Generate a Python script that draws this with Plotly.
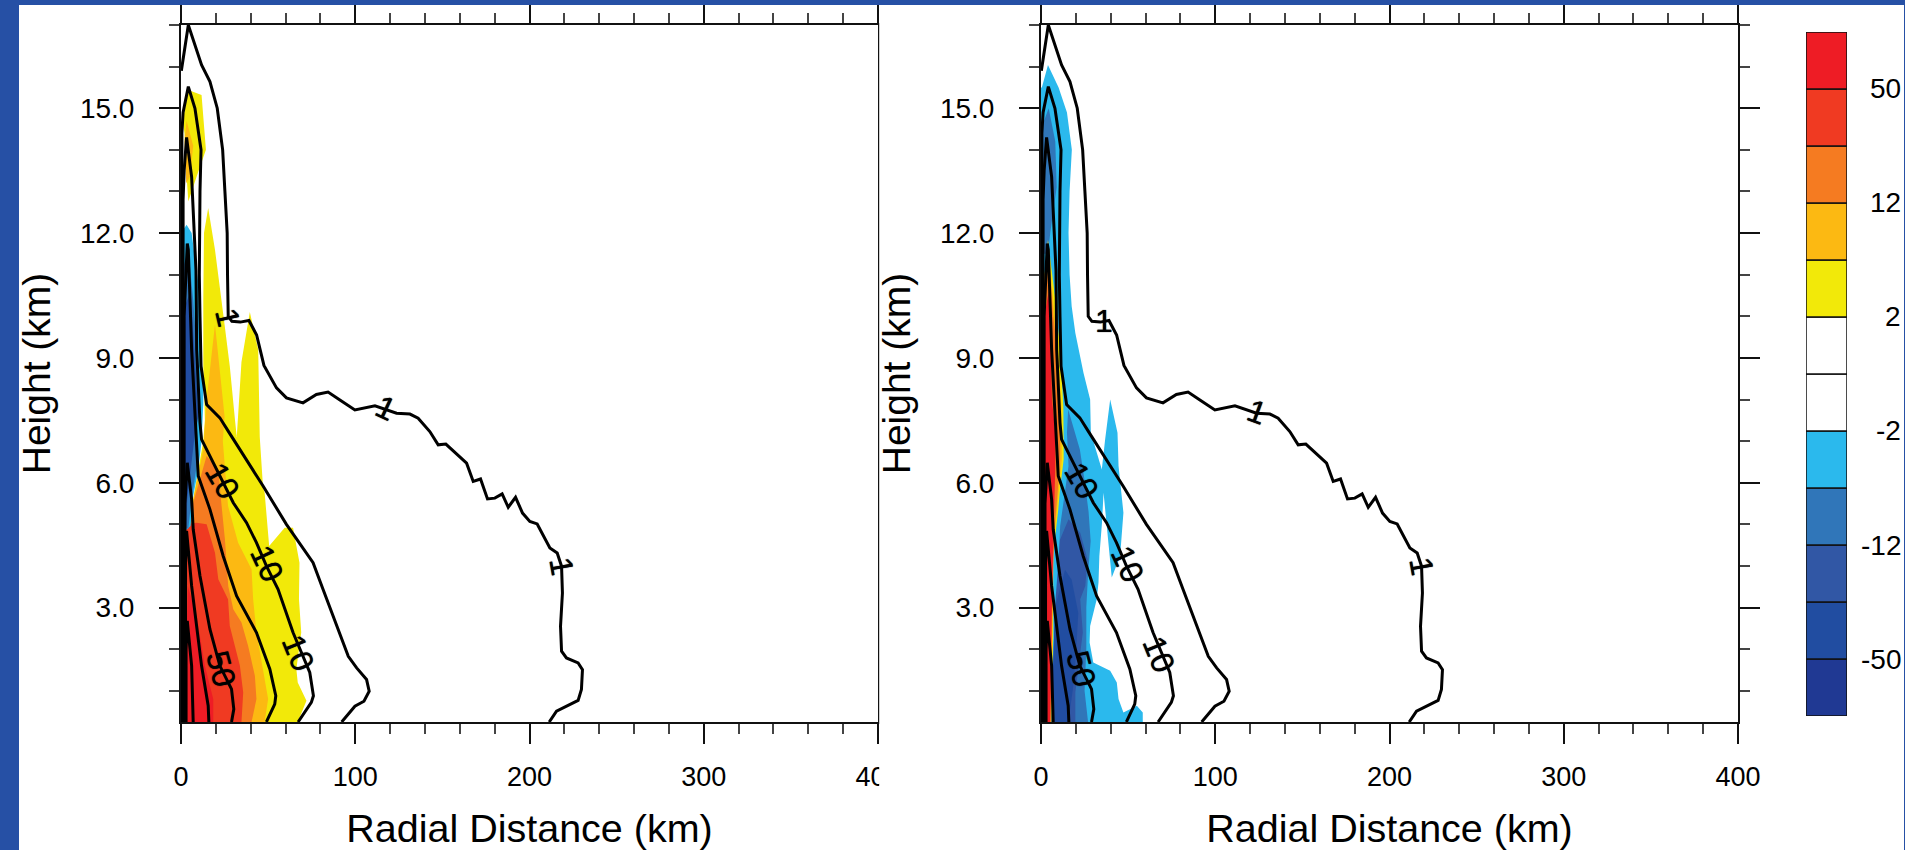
import plotly.graph_objects as go

FONT = "Liberation Sans"
W, H = 1905, 850

# ---- colour levels of the shared bar, bottom to top
BAR_COLORS = ["#203993", "#214da1", "#3157a5", "#3076b9", "#2bb9ed", "#ffffff",
              "#ffffff", "#f2e909", "#fcb912", "#f57b21", "#f03a22", "#ee1c25"]
BAR_TICK_POS = [1, 3, 5, 7, 9, 11]
BAR_TICK_TEXT = ["-50", "-12", "-2", "2", "12", "50"]

X_TICKS = [0, 100, 200, 300, 400]
Y_TICKS = [3, 6, 9, 12, 15]

# ---- contours (radius km, height km); same in both panels
C_OUTER = [(0.2, 15.9), (4.2, 17), (11.8, 16.04), (16.6, 15.64), (20.8, 15), (23.9, 14), (25.2, 13), (26.5, 12),
           (26.7, 11), (27.1, 10), (29.2, 9.88), (34, 9.86), (39, 9.9), (43.4, 9.55), (47.6, 8.82), (54.8, 8.28),
           (60.5, 8.04), (70, 7.92), (77.7, 8.12), (84.4, 8.18), (91.2, 7.99), (99.8, 7.75), (111.3, 7.85),
           (118, 7.75), (123.7, 7.67), (131.4, 7.65), (136.1, 7.55), (142.8, 7.23), (147.6, 6.91), (152, 6.93),
           (158.1, 6.69), (163.9, 6.47), (167.7, 6.03), (171.9, 6.09), (175.9, 5.61), (180.1, 5.63), (184.3, 5.73),
           (187.8, 5.41), (192, 5.65), (196, 5.27), (200.2, 5.07), (204.4, 5.01), (211.7, 4.43), (215.9, 4.31),
           (218.4, 3.99), (218.9, 3.35), (217.8, 2.55), (218.4, 1.95), (221.2, 1.79), (227.9, 1.67), (230.4, 1.51),
           (229.8, 1.03), (227.9, 0.77), (219.3, 0.59), (215.5, 0.51), (211.3, 0.25)]
C_2 = [(0.5, 0.25), (0.5, 14.4), (1.2, 14.9), (4.2, 15.52), (8, 15), (11.5, 14), (10.9, 13), (10.5, 12), (10.5, 11),
       (10.9, 10), (11.5, 8.8), (14.7, 7.88), (22.3, 7.56), (27.1, 7.24), (47.1, 5.92), (60.5, 5), (75.8, 4.08),
       (81.5, 3.44), (87.2, 2.8), (91.2, 2.39), (96, 1.83), (100.8, 1.55), (106.5, 1.27), (108, 0.99), (105, 0.75),
       (99.8, 0.63), (92.2, 0.25)]
C_3 = [(1.2, 0.25), (1.2, 12.8), (1.8, 13.5), (3.2, 14.3), (6.1, 13.35), (7.4, 12.23), (8.6, 11.1), (9, 9.2),
       (10.9, 7.44), (11.8, 7.04), (20.4, 6.32), (30, 5.52), (37.6, 5.04), (43.3, 4.56), (49, 4), (55.7, 3.44),
       (64.3, 2.4), (73.9, 1.44), (76, 0.88), (74.8, 0.72), (67.2, 0.25)]
C_4 = [(1.8, 0.25), (1.8, 10), (3.6, 11.75), (4.2, 11.6), (6.1, 9.2), (8, 7.76), (9.9, 6.16), (16.6, 5.36),
       (24.2, 4.24), (31.9, 3.28), (43.3, 2.4), (51, 1.52), (54.4, 0.88), (53.8, 0.68), (49, 0.25)]
C_5 = [(2.3, 0.25), (2.3, 5.5), (3.6, 6.48), (6.1, 5.6), (7, 4.88), (10.9, 3.76), (16.6, 2.48), (22.3, 1.6),
       (29, 1.04), (30.3, 0.56), (29, 0.25)]
C_6 = [(2.6, 0.25), (2.6, 4), (3.2, 4.84), (6.1, 3.52), (11.8, 1.6), (15.6, 0.64), (16, 0.25)]
C_7 = [(2.9, 0.25), (2.9, 2), (3.6, 2.68), (6.1, 1.6), (7, 0.25)]
CONTOURS = [C_OUTER, C_2, C_3, C_4, C_5, C_6, C_7]

# ---- contour labels: text, radius, height, angle
LEFT_LABELS = [("1", 26.7, 9.98, 77), ("1", 117.5, 7.8, 25), ("1", 218.4, 4.0, 80),
               ("10", 24, 6.05, 60), ("10", 49.5, 4.05, 65), ("10", 67.5, 1.92, 68), ("50", 23, 1.52, 75)]
RIGHT_LABELS = [("1", 36.3, 9.88, 0), ("1", 124, 7.7, 20), ("1", 218.4, 4.0, 80),
                ("10", 23.5, 6.05, 60), ("10", 49.7, 4.05, 65), ("10", 67.5, 1.88, 68), ("50", 23, 1.52, 75)]

# ---- shaded regions of the left panel
L_YELLOW_TOP = [(1, 14.7), (4.2, 15.44), (11.8, 15.32), (14.3, 14), (9, 13.36), (4.2, 12.76), (3, 13.5), (2, 14.4)]
L_LORANGE_TOP = [(3.2, 14.7), (7, 14.1), (5.2, 13.36), (3, 13.2), (2, 14.2)]
L_YELLOW = [(15.6, 12.6), (19.5, 11.6), (25, 9.8), (28, 8.8), (31, 7.5), (32, 7.1), (34.7, 8.9), (39.5, 10.1),
            (44.3, 9.2), (45.2, 7.1), (47.1, 5.88), (48, 5.76), (50.6, 4.48), (59.5, 4.92), (64.3, 4.92), (68, 4.08),
            (67.7, 3.2), (69, 2.4), (66.2, 1.52), (67, 1.2), (72, 0.76), (67, 0.25), (1, 0.25), (3, 4.8), (7, 5.6),
            (12.8, 7), (13.7, 7.5), (12.8, 8.8), (12.8, 10.4), (13.2, 12)]
L_LORANGE = [(19.5, 9.8), (22.5, 8.5), (25, 7.6), (24, 7), (27, 5.44), (32.8, 4.56), (40.5, 3.92), (41.4, 3.2),
             (43.3, 2.4), (50, 0.8), (48, 0.25), (1.3, 0.25), (3.2, 4.8), (7, 5.6), (12.8, 6.8), (14.7, 8)]
L_ORANGE = [(14.7, 6.64), (21.4, 6.32), (23.3, 5.44), (25.2, 4.64), (27.1, 3.52), (30, 2.96), (34.7, 2.64),
            (38.5, 2.08), (42.4, 1.36), (43.3, 0.8), (40.5, 0.25), (1.5, 0.25), (2.5, 4.8), (7, 5.52)]
L_REDORANGE = [(9, 5.04), (14.7, 5), (19.5, 4.32), (21.4, 3.68), (27, 3.2), (28, 2.56), (33.8, 1.6), (35.7, 0.96),
               (34.7, 0.25), (2, 0.25), (3, 5)]
L_RED = [(4, 3.5), (9, 2.8), (13.7, 1.6), (18.5, 0.8), (18.5, 0.25), (2, 0.25)]
L_CYAN = [(3.2, 12.2), (6.1, 12), (9.9, 10.8), (10.9, 9.6), (12.8, 8.4), (12.8, 7.9), (11.8, 7), (9.9, 6.3), (7, 5.68),
          (5.5, 4.96), (2.3, 4.84), (0, 4.84), (0, 12)]
L_MIDBLUE = [(4.2, 11.6), (7, 10.4), (9, 9.2), (10.3, 8), (9, 7.2), (9, 6.4), (6.1, 5.6), (4.2, 4.9), (0, 4.9), (0, 11)]
L_DARKBLUE = [(5.5, 10.6), (8, 8.8), (10, 7.6), (8, 7.2), (6, 6.5), (3.6, 5.6), (2.9, 4.84), (0, 4.84), (0, 10)]

# ---- shaded regions of the right panel
R_CYAN = [(0.5, 15.5), (4, 16.04), (10.1, 15.5), (14.9, 14.9), (17.7, 14), (16.4, 13), (15.8, 12), (16.4, 11),
          (17.6, 10.24), (19.7, 9.6), (24.4, 8.64), (28.2, 8), (28.6, 7.2), (32, 6.72), (34.9, 6.32), (36.8, 7.04),
          (39.7, 8), (43.9, 7.2), (44.5, 6.4), (47.3, 5.28), (45.4, 4.24), (40.6, 3.72), (38.7, 4.48), (35.9, 5.76),
          (35, 5.04), (33.5, 4.24), (33, 3.6), (32, 3.2), (28.2, 2.56), (27.9, 2.16), (30, 1.68), (39.7, 1.48),
          (43.5, 1.2), (44.5, 0.8), (47.3, 0.48), (55, 0.64), (58.4, 0.48), (58.4, 0.25), (0, 0.25), (0, 15.5)]
R_MIDBLUE_TOP = [(4.4, 15), (8.2, 14.2), (9, 13.1), (7.3, 12.6), (5.3, 12), (4, 11.5), (0, 11.5), (0, 14.5)]
R_MIDBLUE = [(15.6, 7.76), (22.3, 6.8), (25.2, 6), (27.3, 5.3), (28.5, 4.6), (27, 3.8), (26, 3), (26, 2), (25, 1),
             (27, 0.25), (8, 0.25), (10, 4), (11, 4.96), (15.8, 6.4), (14.9, 7.2)]
R_DARK_A = [(15.8, 5.12), (22.5, 4.8), (26.7, 4.16), (25.4, 3.52), (22.5, 3.2), (24, 2.4), (21.6, 1.6), (19.7, 0.96),
            (19.7, 0.25), (6, 0.25), (8, 3), (10.9, 4.63)]
R_DARK_B = [(13.8, 3.91), (17.6, 3.67), (21.4, 2.87), (20, 1.83), (18.5, 1.11), (15.7, 0.25), (6, 0.25), (8, 3)]
R_YELLOW = [(4, 11.84), (8.2, 10.4), (11, 9.2), (12.8, 7.84), (13, 7.04), (13, 6.56), (10.9, 5.83), (9.9, 5.35),
            (7, 4.3), (7, 2.3), (6, 0.25), (2, 0.25), (2, 11)]
R_LORANGE = [(4.2, 11.7), (7.5, 10.2), (10, 9), (11.8, 7.84), (12, 7.04), (12, 6.56), (10, 5.7), (9, 5.2),
             (6.6, 4.2), (6.6, 2.3), (5.7, 0.25), (2, 0.25), (2, 11)]
R_ORANGE = [(4.4, 11.5), (7, 10), (8.2, 9.6), (10.5, 7.84), (11, 7.04), (11, 6.56), (9.2, 5.6), (8, 5),
            (7, 4), (6.4, 2.3), (5.5, 0.25), (2, 0.25), (2, 11)]
R_RED = [(4.4, 10.6), (5.5, 9.5), (6.3, 8), (8.2, 7.2), (8.2, 6.4), (7.3, 5.2), (7.3, 4.88), (6.3, 3.2), (5.3, 0.8),
         (5.3, 0.25), (2, 0.25), (2, 10)]

LEFT_FILLS = [(L_YELLOW_TOP, "#f2e909"), (L_LORANGE_TOP, "#fcb912"), (L_YELLOW, "#f2e909"), (L_LORANGE, "#fcb912"),
              (L_ORANGE, "#f57b21"), (L_REDORANGE, "#f03a22"), (L_RED, "#ee1c25"), (L_CYAN, "#2bb9ed"),
              (L_MIDBLUE, "#3076b9"), (L_DARKBLUE, "#214da1")]
RIGHT_FILLS = [(R_CYAN, "#2bb9ed"), (R_MIDBLUE_TOP, "#3076b9"), (R_MIDBLUE, "#3076b9"), (R_DARK_A, "#3157a5"),
               (R_DARK_B, "#214da1"), (R_YELLOW, "#f2e909"), (R_LORANGE, "#fcb912"), (R_ORANGE, "#f57b21"),
               (R_RED, "#ee1c25")]

fig = go.Figure()


def draw_panel(fills, xa, ya):
    for poly, color in fills:
        fig.add_trace(go.Scatter(x=[p[0] for p in poly], y=[p[1] for p in poly], fill="toself", fillcolor=color,
                                 mode="lines", line=dict(width=0, color=color), hoverinfo="skip", xaxis=xa, yaxis=ya))
    for c in CONTOURS:
        fig.add_trace(go.Scatter(x=[p[0] for p in c], y=[p[1] for p in c], mode="lines",
                                 line=dict(color="#000000", width=3), hoverinfo="skip", xaxis=xa, yaxis=ya))


draw_panel(LEFT_FILLS, "x", "y")
draw_panel(RIGHT_FILLS, "x2", "y2")

fig.add_trace(go.Bar(x=[0] * len(BAR_COLORS), y=[1] * len(BAR_COLORS), base=list(range(len(BAR_COLORS))), width=1,
                     marker=dict(color=BAR_COLORS, line=dict(color="#111111", width=1.5)), hoverinfo="skip",
                     xaxis="x3", yaxis="y3"))


def xdom(a, b):
    return [a / W, b / W]


def ydom(top, bottom):
    return [1 - bottom / H, 1 - top / H]


def xaxis(domain, anchor):
    return dict(domain=domain, anchor=anchor, automargin=False, range=[0, 400], tickvals=X_TICKS, ticks="outside",
                ticklen=20, tickwidth=2, tickcolor="#111111",
                minor=dict(dtick=20, ticks="outside", ticklen=10, tickwidth=1.5, tickcolor="#444444"),
                showline=True, linecolor="#111111", linewidth=2, mirror="ticks", showgrid=False, zeroline=False,
                tickfont=dict(family=FONT, size=27, color="#000000"), ticklabelstandoff=10,
                title=dict(text="Radial Distance (km)", font=dict(family=FONT, size=39.5, color="#000000"), standoff=24))


def yaxis(domain, anchor):
    return dict(domain=domain, anchor=anchor, automargin=False, range=[0.25, 17], tickvals=Y_TICKS, tickformat=".1f",
                ticks="outside", ticklen=20, tickwidth=2, tickcolor="#111111",
                minor=dict(dtick=1, ticks="outside", ticklen=10, tickwidth=1.5, tickcolor="#444444"),
                showline=True, linecolor="#111111", linewidth=2, mirror="ticks", showgrid=False, zeroline=False,
                tickfont=dict(family=FONT, size=28, color="#000000"), ticklabelstandoff=19,
                title=dict(text="Height (km)", font=dict(family=FONT, size=39, color="#000000"), standoff=17))


annotations = []
for labels, xr, yr in ((LEFT_LABELS, "x", "y"), (RIGHT_LABELS, "x2", "y2")):
    for text, km, h, ang in labels:
        annotations.append(dict(text=text, x=km, y=h, xref=xr, yref=yr, textangle=ang, showarrow=False,
                                font=dict(family=FONT, size=32, color="#000000", shadow="0px 0px 1px #000000")))
for pos, text in zip(BAR_TICK_POS, BAR_TICK_TEXT):
    annotations.append(dict(text=text, x=1903 / W, y=pos, xref="paper", yref="y3", xanchor="right", showarrow=False,
                            font=dict(family=FONT, size=28, color="#000000")))

BLUE = "#2650a5"
shapes = [
    # the left panel's picture ends at its frame: it cuts the last label and the right-hand ticks
    dict(type="rect", xref="paper", yref="paper", x0=879.2 / W, x1=935 / W, y0=0, y1=1, layer="above",
         fillcolor="#ffffff", line_width=0),
    dict(type="rect", xref="paper", yref="paper", x0=0, x1=19 / W, y0=0, y1=1, layer="above",
         fillcolor=BLUE, line_width=0),
    dict(type="rect", xref="paper", yref="paper", x0=0, x1=1, y0=1 - 5 / H, y1=1, layer="above",
         fillcolor=BLUE, line_width=0),
    dict(type="rect", xref="paper", yref="paper", x0=1904 / W, x1=1, y0=0, y1=1, layer="above",
         fillcolor=BLUE, line_width=0),
]

fig.update_layout(
    width=W, height=H, autosize=False, margin=dict(l=0, r=0, t=0, b=0, pad=0), showlegend=False,
    paper_bgcolor="#ffffff", plot_bgcolor="#ffffff", barmode="overlay",
    xaxis=xaxis(xdom(181, 878), "y"), yaxis=yaxis(ydom(25, 722), "x"),
    xaxis2=xaxis(xdom(1041, 1738), "y2"), yaxis2=yaxis(ydom(25, 722), "x2"),
    xaxis3=dict(domain=xdom(1806, 1847), anchor="y3", range=[-0.5, 0.5], visible=False, automargin=False),
    yaxis3=dict(domain=ydom(32, 716), anchor="x3", range=[0, 12], visible=False, automargin=False),
    annotations=annotations, shapes=shapes,
)

PIN_PAGE = """
document.documentElement.style.margin = '0';
document.documentElement.style.overflow = 'hidden';
document.body.style.margin = '0';
document.body.style.overflow = 'hidden';
"""
fig.write_html("out.html", config=dict(displayModeBar=False, responsive=False), post_script=PIN_PAGE)
